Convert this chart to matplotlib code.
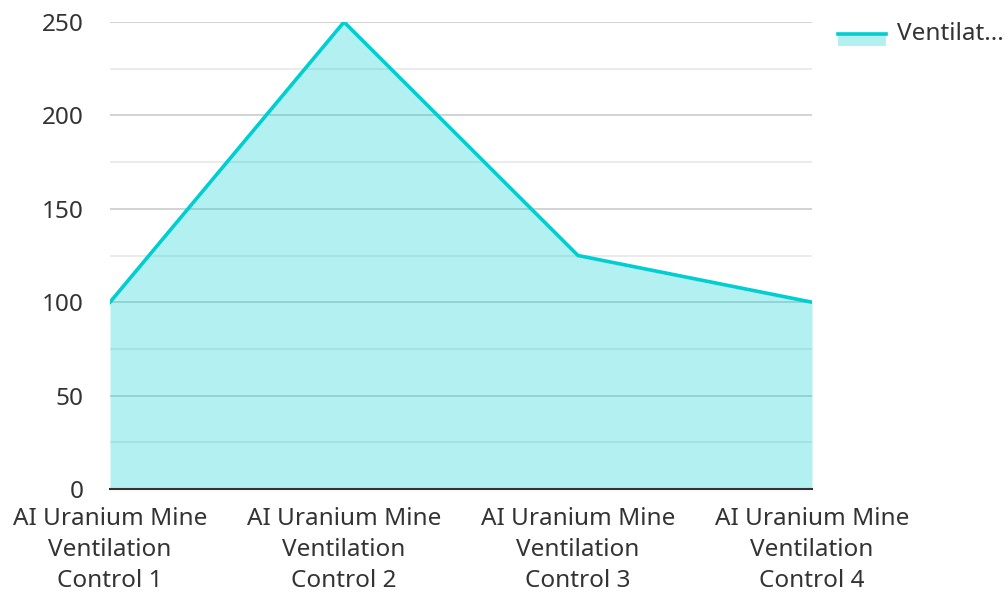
import matplotlib
matplotlib.use("Agg")
import matplotlib.pyplot as plt
from matplotlib.patches import Rectangle
from matplotlib.lines import Line2D

categories = [
    "AI Uranium Mine\nVentilation\nControl 1",
    "AI Uranium Mine\nVentilation\nControl 2",
    "AI Uranium Mine\nVentilation\nControl 3",
    "AI Uranium Mine\nVentilation\nControl 4",
]
values = [100, 250, 125, 100]
series_name = "Ventilat..."
y_ticks = [0, 50, 100, 150, 200, 250]

plt.rcParams["font.family"] = ["Noto Sans", "DejaVu Sans"]

color = "#00CED1"
fs = 17.5
fig = plt.figure(figsize=(10.06, 5.94), dpi=100)
ax = fig.add_axes([110 / 1006, 1 - 489 / 594, 702 / 1006, 467 / 594])

x = list(range(len(categories)))
ax.fill_between(x, values, 0, color=color, alpha=0.3, linewidth=0, zorder=2)
ax.plot(x, values, color=color, linewidth=2.6, zorder=3, solid_joinstyle="miter")

ax.set_xlim(0, len(categories) - 1)
ax.set_ylim(0, 250)
ax.set_yticks(y_ticks)
ax.set_yticks([25, 75, 125, 175, 225], minor=True)
ax.grid(axis="y", which="major", color="#cccccc", linewidth=1.2, zorder=1)
ax.grid(axis="y", which="minor", color="#e8e8e8", linewidth=1.2, zorder=1)
ax.set_axisbelow(True)

ax.set_xticks(x)
ax.set_xticklabels(categories, linespacing=1.38)
for s in ["top", "right", "left"]:
    ax.spines[s].set_visible(False)
ax.spines["bottom"].set_color("#333333")
ax.spines["bottom"].set_linewidth(1.5)
ax.spines["bottom"].set_zorder(4)
ax.tick_params(axis="both", which="both", length=0, labelsize=fs, labelcolor="#333333")
ax.tick_params(axis="x", pad=13)
ax.tick_params(axis="y", pad=19)
for lbl in ax.get_yticklabels():
    lbl.set_horizontalalignment("right")

# legend drawn in figure coordinates
W, H = 1006, 594
fig.patches.append(Rectangle((838 / W, 1 - 46 / H), 48 / W, 12 / H,
                             transform=fig.transFigure, color=color, alpha=0.3, lw=0))
fig.lines.append(Line2D([838 / W, 886 / W], [1 - 34 / H, 1 - 34 / H],
                        transform=fig.transFigure, color=color, linewidth=2.6))
fig.text(897 / W, 1 - 34 / H, series_name, fontsize=fs, color="#333333",
         va="center", ha="left")

fig.savefig("out.png", dpi=100)
